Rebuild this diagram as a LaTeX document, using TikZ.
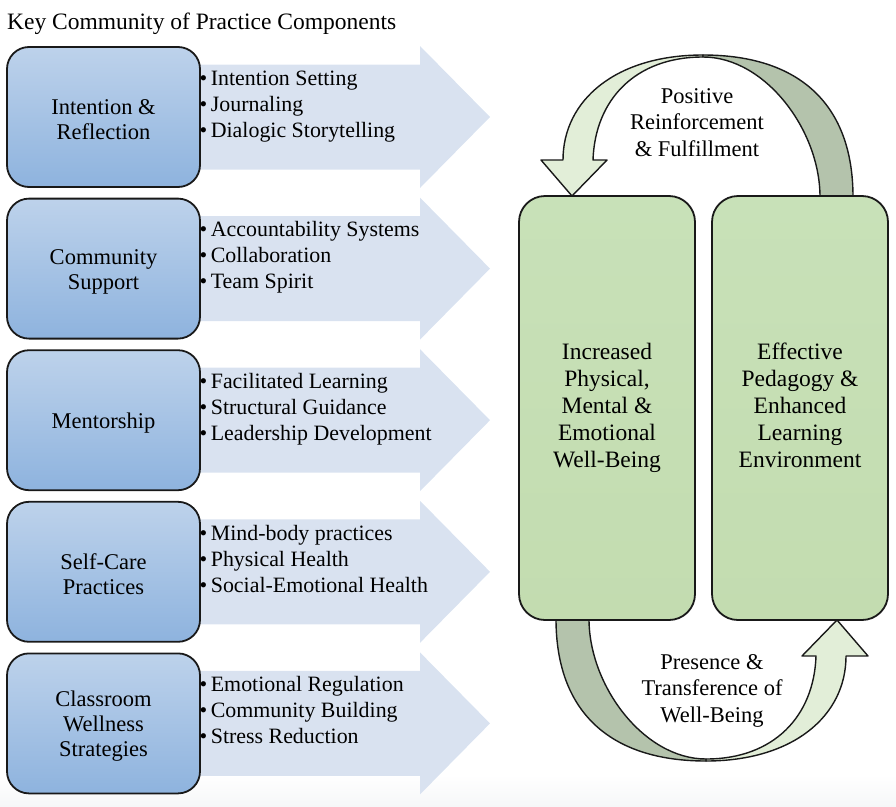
\documentclass[tikz,border=0pt]{standalone}
\usepackage{fontspec}
\setmainfont{Liberation Serif}
\definecolor{arrowblue}{HTML}{D9E2F0}
\definecolor{boxtop}{HTML}{BDD2EB}
\definecolor{boxbot}{HTML}{8EB3DE}
\definecolor{greentop}{HTML}{C8E1B8}
\definecolor{greenbot}{HTML}{C3DCB0}
\definecolor{arclight}{HTML}{E2EED8}
\definecolor{arcdark}{HTML}{B4C3AC}
\definecolor{bggray}{HTML}{F6F7F8}
\newcommand{\bul}{\strut•\kern3.5pt}
\tikzset{
  bluebox/.style={draw=black!90, line width=1.8pt, rounded corners=22pt,
    top color=boxtop, bottom color=boxbot, minimum width=193pt,
    minimum height=140pt, align=center, inner sep=0pt,
    font=\fontsize{22.5}{25}\selectfont},
  greenbox/.style={draw=black!90, line width=1.8pt, rounded corners=26pt,
    top color=greentop, bottom color=greenbot, minimum width=176pt,
    minimum height=424pt, align=center, inner sep=0pt,
    font=\fontsize{23.5}{27}\selectfont},
  listtext/.style={anchor=west, align=left, inner sep=0pt,
    font=\fontsize{21.9}{26}\selectfont},
  arctext/.style={align=center, inner sep=0pt,
    font=\fontsize{22.5}{26.5}\selectfont},
  bigarrow/.style={fill=arrowblue},
  arcpart/.style={draw=black!90, line width=1.4pt, line join=round}
}
\begin{document}
\begin{tikzpicture}[x=1pt,y=-1pt]
\useasboundingbox (0,0) rectangle (896,806);
\fill[top color=white, bottom color=bggray] (0,775) rectangle (896,806);

% title
\node[anchor=west, inner sep=0pt, font=\fontsize{23.5}{27}\selectfont] (title) at (7,23.5) {Key Community of Practice Components};

% wide arrows
\foreach \c in {117,268.6,420.2,571.8,723.4}{
  \fill[bigarrow] (195,\c-52.5) -- (420,\c-52.5) -- (420,\c-71) -- (490,\c)
     -- (420,\c+71) -- (420,\c+52.5) -- (195,\c+52.5) -- cycle;
}

% blue boxes
\node[bluebox] (b1) at (103.5,117) {\rule{0pt}{21pt}Intention \&\\Reflection};
\node[bluebox] (b2) at (103.5,268.6) {\rule{0pt}{21pt}Community\\Support};
\node[bluebox] (b3) at (103.5,420.2) {\rule{0pt}{21pt}Mentorship};
\node[bluebox] (b4) at (103.5,571.8) {\rule{0pt}{21pt}Self-Care\\Practices};
\node[bluebox] (b5) at (103.5,723.4) {\rule{0pt}{21pt}Classroom\\Wellness\\Strategies};

% lists
\node[listtext] (l1) at (199.5,106) {\bul Intention Setting\\\bul Journaling\\\bul Dialogic Storytelling};
\node[listtext] (l2) at (199.5,257.6) {\bul Accountability Systems\\\bul Collaboration\\\bul Team Spirit};
\node[listtext] (l3) at (199.5,409.2) {\bul Facilitated Learning\\\bul Structural Guidance\\\bul Leadership Development};
\node[listtext] (l4) at (199.5,560.8) {\bul Mind-body practices\\\bul Physical Health\\\bul Social-Emotional Health};
\node[listtext] (l5) at (199.5,712.4) {\bul Emotional Regulation\\\bul Community Building\\\bul Stress Reduction};

% circular arrows (top one, and its copy turned half round)
\foreach \r in {0,180}{
\begin{scope}[rotate around={\r:(704.5,408)}]
  \filldraw[arcpart, fill=arclight] (703,55) .. controls (616,55) and (563,100) .. (563,160)
     -- (541,160) -- (572,196) -- (607,160) -- (593,160)
     .. controls (595,100) and (635,57) .. (703,57) -- cycle;
  \filldraw[arcpart, fill=arcdark] (703,55) .. controls (800,55) and (853,105) .. (853,197)
     -- (820,197) .. controls (820,130) and (765,57) .. (703,57) -- cycle;
\end{scope}
}

% green boxes
\node[greenbox] (g1) at (607,408) {\strut Increased\\Physical,\\Mental \&\\Emotional\\Well-Being\strut};
\node[greenbox] (g2) at (800,408) {\strut Effective\\Pedagogy \&\\Enhanced\\Learning\\Environment\strut};

% arc labels
\node[arctext] (t1) at (697,124.5) {\strut Positive\\Reinforcement\\\& Fulfillment\strut};
\node[arctext] (t2) at (712,690.5) {\strut Presence \&\\Transference of\\Well-Being\strut};
\end{tikzpicture}
\end{document}
